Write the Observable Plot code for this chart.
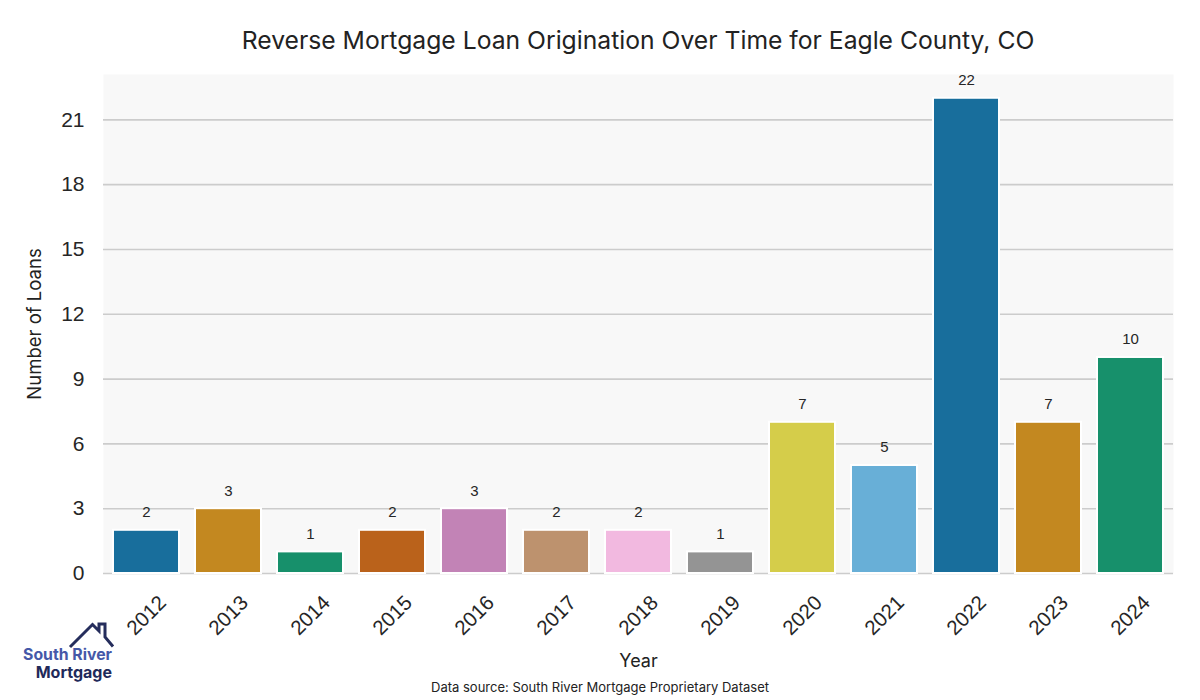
<!DOCTYPE html>
<html>
<head>
<meta charset="utf-8">
<script src="https://cdn.jsdelivr.net/npm/d3@7"></script>
<script src="https://cdn.jsdelivr.net/npm/@observablehq/plot@0.6"></script>
<style>
  html, body { margin: 0; padding: 0; background: #ffffff; }
  #wrap { position: relative; width: 1200px; height: 700px; overflow: hidden; }
  #title { height: 32px; padding-top: 28px; margin-left: 103px; width: 1070px; text-align: center;
           font-family: Inter, "Open Sans", sans-serif; font-size: 24.7px; line-height: 1; color: #222; }
  #chart svg { display: block; }
  #caption { width: 1200px; text-align: center; padding-top: 6px; font-family: Inter, "Open Sans", sans-serif;
             font-size: 13px; line-height: 1; color: #222; }
  #logo { position: absolute; left: 0; top: 600px; }
</style>
</head>
<body>
<div id="wrap">
  <div id="title">Reverse Mortgage Loan Origination Over Time for Eagle County, CO</div>
  <div id="chart"></div>
  <div id="caption">Data source: South River Mortgage Proprietary Dataset</div>
  <svg id="logo" width="130" height="100" viewBox="0 600 130 100">
    <path d="M70,647 L92.5,624.5 L99,631 L99,624 L105,624 L105,637 L113,646.5" fill="none" stroke="#252d5c" stroke-width="3" stroke-linejoin="miter"/>
    <text x="112" y="659.5" text-anchor="end" font-family="Inter, 'Open Sans', sans-serif" font-weight="700" font-size="15.8" fill="#4558a8">South River</text>
    <text x="112" y="677.5" text-anchor="end" font-family="Inter, 'Open Sans', sans-serif" font-weight="700" font-size="16" fill="#1f2a5a">Mortgage</text>
  </svg>
</div>
<script>
const years = ["2012","2013","2014","2015","2016","2017","2018","2019","2020","2021","2022","2023","2024"];
const loans = [2, 3, 1, 2, 3, 2, 2, 1, 7, 5, 22, 7, 10];
const barColors = ["#186e9c","#c38820","#17906b","#ba621b","#c283b6","#bd926e","#f2b9e0","#949494","#d5cd4a","#68afd7","#186e9c","#c38820","#17906b"];
const yTicks = [0, 3, 6, 9, 12, 15, 18, 21];
const yLabel = "Number of Loans";
const xLabel = "Year";

const data = years.map((year, i) => ({year, loans: loans[i]}));

const chart = Plot.plot({
  width: 1200,
  height: 615,
  marginTop: 14,
  marginBottom: 102,
  marginLeft: 103,
  marginRight: 27,
  style: {fontFamily: "'Liberation Sans', Arial, sans-serif", background: "transparent", color: "#262626"},
  x: {domain: years, paddingInner: 0.2, paddingOuter: 0.1, axis: null},
  y: {domain: [0, 23.1], axis: null},
  color: {domain: years, range: barColors},
  marks: [
    Plot.frame({fill: "#f8f8f8", stroke: "none"}),
    Plot.gridY(yTicks, {stroke: "#cccccc", strokeOpacity: 1, strokeWidth: 1.6}),
    Plot.barY(data, {x: "year", y: "loans", fill: "year", stroke: "white", strokeWidth: 2}),
    Plot.text(data, {x: "year", y: "loans", text: d => String(d.loans), dy: -18, fontSize: 15, fill: "#262626"}),
    Plot.axisY(yTicks, {tickSize: 0, tickPadding: 19, fontSize: 21, label: null, fill: "#262626"}),
    Plot.text(years, {x: d => d, text: d => d, frameAnchor: "bottom", lineAnchor: "middle", textAnchor: "middle",
      dy: 42, rotate: -45, fontSize: 20.5, fill: "#262626"}),
    Plot.text([xLabel], {text: d => d, frameAnchor: "bottom", lineAnchor: "middle", textAnchor: "middle",
      dy: 88, fontSize: 18, fill: "#222", fontFamily: "Inter, 'Open Sans', sans-serif"}),
    Plot.text([yLabel], {text: d => d, frameAnchor: "left", textAnchor: "middle", lineAnchor: "middle",
      dx: -68, rotate: -90, fontSize: 18.5, fill: "#222", fontFamily: "Inter, 'Open Sans', sans-serif"})
  ]
});
document.getElementById("chart").appendChild(chart);
</script>
</body>
</html>
